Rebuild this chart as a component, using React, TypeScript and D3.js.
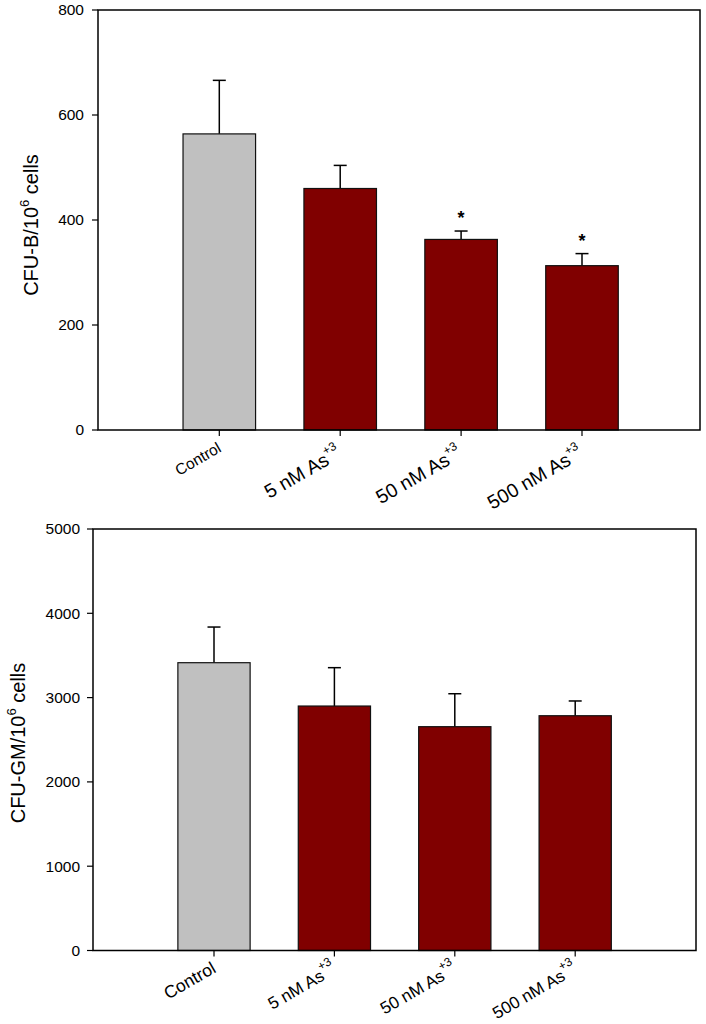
import React from 'react';
import * as d3 from 'd3';

// groups shared by both panels
const groups = ['Control', '5 nM As', '50 nM As', '500 nM As'];
const groupSup = ['', '+3', '+3', '+3'];
const groupFill = ['#c0c0c0', '#800000', '#800000', '#800000'];

// CFU-B panel
const cfuB = [564, 460, 363, 313];
const cfuBErr = [102, 44, 16, 23];
const cfuBSig = [false, false, true, true];
const cfuBTicks = [0, 200, 400, 600, 800];

// CFU-GM panel
const cfuGM = [3414, 2900, 2655, 2785];
const cfuGMErr = [423, 455, 391, 175];
const cfuGMSig = [false, false, false, false];
const cfuGMTicks = [0, 1000, 2000, 3000, 4000, 5000];

const FONT = '"Liberation Sans", Arial, sans-serif';

interface PanelProps {
  values: number[];
  errs: number[];
  sig: boolean[];
  ticks: number[];
  yMax: number;
  box: { left: number; right: number; top: number; bottom: number };
  centers: [number, number];
  yLabel: string;
  labelX: number;
  labelY: number;
  tickPad: number;
  ctrlSize: number;
  asSize: number;
  ctrlOff: [number, number];
  asOff: [number, number];
}

const Panel: React.FC<PanelProps> = (p) => {
  const { box } = p;
  const y = d3.scaleLinear().domain([0, p.yMax]).range([box.bottom, box.top]);
  const x = d3.scaleLinear().domain([0, groups.length - 1]).range(p.centers);
  const step = x(1) - x(0);
  const barW = step * 0.6;
  const cap = 6.5;

  return (
    <g>
      {p.values.map((v, i) => {
        const cx = x(i);
        const top = y(v + p.errs[i]);
        return (
          <g key={groups[i]}>
            <line x1={cx} x2={cx} y1={y(v)} y2={top} stroke="#000" strokeWidth={1.5} />
            <line x1={cx - cap} x2={cx + cap} y1={top} y2={top} stroke="#000" strokeWidth={1.5} />
            <rect x={cx - barW / 2} y={y(v)} width={barW} height={y(0) - y(v)}
              fill={groupFill[i]} stroke="#111" strokeWidth={1.2} />
            {p.sig[i] && (
              <text x={cx} y={top - 7} textAnchor="middle" fontSize={18} fontWeight="bold"
                fontFamily={FONT}>*</text>
            )}
          </g>
        );
      })}

      <rect x={box.left} y={box.top} width={box.right - box.left} height={box.bottom - box.top}
        fill="none" stroke="#000" strokeWidth={1.5} />

      {p.ticks.map(t => (
        <g key={t}>
          <line x1={box.left - 6} x2={box.left} y1={y(t)} y2={y(t)} stroke="#000" strokeWidth={1.2} />
          <text x={box.left - p.tickPad} y={y(t)} dy="0.35em" textAnchor="end" fontSize={15.5}
            fontFamily={FONT}>{t}</text>
        </g>
      ))}

      {groups.map((g, i) => {
        const cx = x(i);
        const isCtrl = groupSup[i] === '';
        const off = isCtrl ? p.ctrlOff : p.asOff;
        return (
          <g key={g}>
            <line x1={cx} x2={cx} y1={box.bottom} y2={box.bottom + 6} stroke="#000" strokeWidth={1.2} />
            <text transform={`translate(${cx + off[0]},${box.bottom + off[1]}) rotate(-30)`}
              textAnchor="end" fontSize={isCtrl ? p.ctrlSize : p.asSize} fontFamily={FONT}>
              {g}
              {!isCtrl && <tspan dy={-10} fontSize={12}>{groupSup[i]}</tspan>}
            </text>
          </g>
        );
      })}

      <text transform={`translate(${p.labelX},${p.labelY}) rotate(-90)`} textAnchor="middle"
        fontSize={20} fontFamily={FONT}>
        {p.yLabel}
        <tspan dy={-9} fontSize={13}>6</tspan>
        <tspan dy={9}> cells</tspan>
      </text>
    </g>
  );
};

const App: React.FC = () => (
  <svg width={706} height={1024} style={{ position: 'absolute', left: 0, top: 0, background: '#fff' }}>
    <Panel values={cfuB} errs={cfuBErr} sig={cfuBSig} ticks={cfuBTicks} yMax={800}
      box={{ left: 98, right: 700, top: 10, bottom: 430 }} centers={[219.3, 582]}
      yLabel="CFU-B/10" labelX={38} labelY={225} tickPad={14} ctrlSize={15.5} asSize={19.5}
      ctrlOff={[3, 21]} asOff={[2, 27]} />
    <Panel values={cfuGM} errs={cfuGMErr} sig={cfuGMSig} ticks={cfuGMTicks} yMax={5000}
      box={{ left: 93, right: 696, top: 529, bottom: 950.5 }} centers={[214, 575.2]}
      yLabel="CFU-GM/10" labelX={25} labelY={743} tickPad={13} ctrlSize={17.5} asSize={17}
      ctrlOff={[3, 21]} asOff={[3, 22]} />
  </svg>
);

export default App;
